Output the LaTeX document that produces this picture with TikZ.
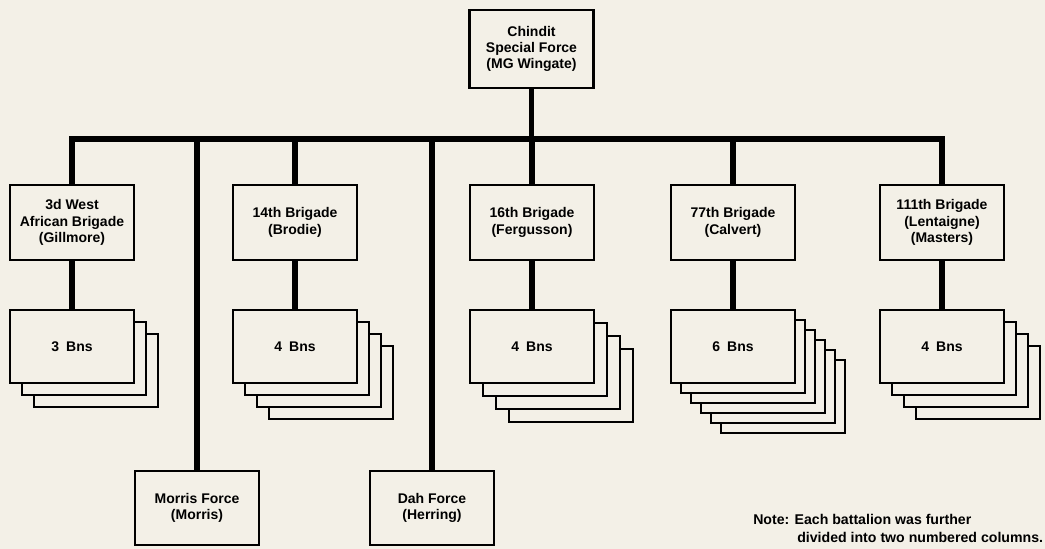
\documentclass[tikz,border=0pt]{standalone}
\usepackage{fontspec}
\setmainfont{Liberation Sans}
\usepackage{tikz}
\usetikzlibrary{positioning}
\definecolor{paper}{RGB}{243,240,231}

\begin{document}
\begin{tikzpicture}[x=0.75pt,y=0.75pt,yscale=-1,xscale=1,
    unitbox/.style={draw, line width=1.8pt, fill=paper, minimum width=93pt, minimum height=56.25pt, inner sep=0.75pt, align=center, font=\fontsize{10.5}{12.3}\selectfont\bfseries},
    sheet/.style={draw, line width=1.8pt, fill=paper},
    link/.style={line width=4.2pt}]
    % page, 1045 x 549
    \fill[paper] (0,0) rectangle (1045,549);
    \useasboundingbox (0,0) rectangle (1045,549);

    %Shape: stacked sheets behind the battalion boxes
    \foreach \k in {2,1} \draw[sheet] (10+12*\k,310+12*\k) rectangle ++(124,73);
    \foreach \k in {3,2,1} \draw[sheet] (233+12*\k,310+12*\k) rectangle ++(124,73);
    \foreach \k in {3,2,1} \draw[sheet] (470+13*\k,310+13*\k) rectangle ++(124,73);
    \foreach \k in {5,4,3,2,1} \draw[sheet] (671+10*\k,310+10*\k) rectangle ++(124,73);
    \foreach \k in {3,2,1} \draw[sheet] (880+12*\k,310+12*\k) rectangle ++(124,73);

    % Top
    \node[unitbox, minimum height=58.5pt] (chindit) at (531.5,49) {Chindit\\Special Force\\(MG Wingate)};
    % Brigades
    \node[unitbox] (wa3) at (72,222.5) {3d West\\African Brigade\\(Gillmore)};
    \node[unitbox] (b14) at (295,222.5) {14th Brigade\\(Brodie)};
    \node[unitbox] (b16) at (532,222.5) {16th Brigade\\(Fergusson)};
    \node[unitbox] (b77) at (733,222.5) {77th Brigade\\(Calvert)};
    \node[unitbox] (b111) at (942,222.5) {111th Brigade\\(Lentaigne)\\(Masters)};
    % Battalions
    \node[unitbox, minimum height=54.75pt] (wa3bns) at (72,346.5) {3\enspace Bns};
    \node[unitbox, minimum height=54.75pt] (b14bns) at (295,346.5) {4\enspace Bns};
    \node[unitbox, minimum height=54.75pt] (b16bns) at (532,346.5) {4\enspace Bns};
    \node[unitbox, minimum height=54.75pt] (b77bns) at (733,346.5) {6\enspace Bns};
    \node[unitbox, minimum height=54.75pt] (b111bns) at (942,346.5) {4\enspace Bns};
    % Forces
    \node[unitbox, minimum height=55.5pt] (morris) at (197,508) {Morris Force\\(Morris)};
    \node[unitbox, minimum height=55.5pt] (dah) at (432,508) {Dah Force\\(Herring)};

    % Connectors
    \coordinate (barW) at (72,139);
    \coordinate (barE) at (942,139);
    \draw[link] (chindit) -- (chindit |- barW);
    \draw[link, line cap=rect] (barW) -- (barE);
    \foreach \u in {wa3,b14,b16,b77,b111} {
        \draw[link] (\u.north |- barW) -- (\u);
        \draw[link] (\u) -- (\u bns);
    }
    \draw[link] (morris.north |- barW) -- (morris);
    \draw[link] (dah.north |- barW) -- (dah);

    % Text Node
    \node[anchor=north west, inner sep=0pt, align=left, font=\fontsize{10.6}{13.5}\selectfont\bfseries] (note) at (753,514) {Note: Each battalion was further\\\hspace*{33pt}divided into two numbered columns.};
\end{tikzpicture}
\end{document}
